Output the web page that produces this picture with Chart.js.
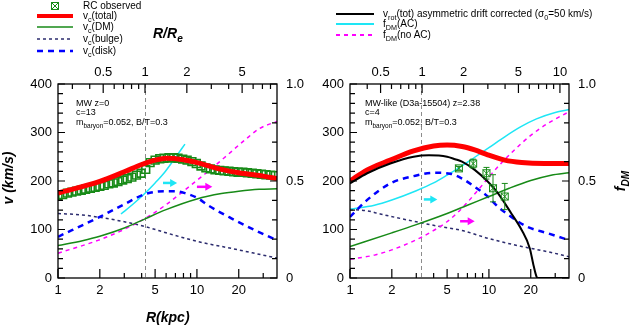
<!DOCTYPE html>
<html>
<head>
<meta charset="utf-8">
<script src="https://cdn.jsdelivr.net/npm/chart.js@4/dist/chart.umd.min.js"></script>
<style>
  body { margin: 0; width: 630px; height: 327px; overflow: hidden; background: #fff;
         font-family: "Liberation Sans", Arial, sans-serif; position: relative; }
  canvas { position: absolute; top: 0; }
  .t { position: absolute; white-space: nowrap; font-size: 10px; line-height: 12px; color: #000; }
  .t sub { font-size: 0.72em; vertical-align: -0.4em; line-height: 0; }
  .n { font-size: 9px; line-height: 10px; }
  .b { font-weight: bold; font-style: italic; font-size: 14px; line-height: 16px; }
  .rot { transform: rotate(-90deg); transform-origin: center center; }
</style>
</head>
<body>
<canvas id="left" width="315" height="327" style="left:0"></canvas>
<canvas id="right" width="315" height="327" style="left:315px"></canvas>

<!-- legends -->
<div class="t" style="left:83px;top:0px">RC observed</div>
<div class="t" style="left:83px;top:10px">v<sub>c</sub>(total)</div>
<div class="t" style="left:83px;top:21px">v<sub>c</sub>(DM)</div>
<div class="t" style="left:83px;top:33px">v<sub>c</sub>(bulge)</div>
<div class="t" style="left:83px;top:45px">v<sub>c</sub>(disk)</div>
<div class="t" style="left:383px;top:8px">v<sub>rot</sub>(tot) asymmetric drift corrected (σ<sub>0</sub>=50 km/s)</div>
<div class="t" style="left:383px;top:18px">f<sub>DM</sub>(AC)</div>
<div class="t" style="left:383px;top:29px">f<sub>DM</sub>(no AC)</div>

<!-- panel notes -->
<div class="t n" style="left:76px;top:98px">MW z=0</div>
<div class="t n" style="left:76px;top:107px">c=13</div>
<div class="t n" style="left:76px;top:117px">m<sub>baryon</sub>=0.052, B/T=0.3</div>
<div class="t n" style="left:365px;top:98px">MW-like (D3a-15504) z=2.38</div>
<div class="t n" style="left:365px;top:107px">c=4</div>
<div class="t n" style="left:365px;top:117px">m<sub>baryon</sub>=0.052, B/T=0.3</div>

<!-- axis titles -->
<div class="t b" style="left:153px;top:25px">R/R<sub>e</sub></div>
<div class="t b" style="left:146px;top:309px">R(kpc)</div>
<div class="t b rot" style="left:-22px;top:170px;width:60px;text-align:center">v (km/s)</div>
<div class="t b rot" style="left:600px;top:173px;width:40px;text-align:center">f<sub>DM</sub></div>

<script>
// ---- left panel: MW z=0 ----
const reLeft = 4.23;
const rTotL = [1, 2, 3, 4, 5, 6, 8, 10, 15, 20, 30, 37.7];
const vTotL = [175, 199, 219, 234, 243, 247, 244, 238, 224, 217, 210, 205];
const rDmL = [1, 1.5, 2, 3, 4.23, 6, 10, 15, 20, 28, 37.7];
const vDmL = [67, 77, 86, 103, 122, 141, 163, 174, 179, 183, 184];
const rBulL = [1, 1.5, 2, 3, 4.23, 6.2, 10.2, 17.7, 25, 37.7];
const vBulL = [133, 130, 125, 116, 106, 92, 75, 61, 52, 41];
const rDiskL = [1, 2, 3, 4.23, 5.8, 7, 8.2, 10.2, 12, 17.7, 26, 37.7];
const vDiskL = [85, 126, 152, 173, 179, 179, 175, 164, 150, 123, 99, 78];
const rAcL = [2.84, 3.46, 4.23, 5, 5.9, 6.9, 8.2];
const fAcL = [0.33, 0.38, 0.437, 0.49, 0.548, 0.615, 0.69];
const rNoL = [1, 1.94, 2.88, 4.23, 5.89, 8.19, 11.4, 15.8, 22.1, 28.3, 37.7];
const fNoL = [0.128, 0.194, 0.245, 0.307, 0.374, 0.454, 0.536, 0.621, 0.711, 0.771, 0.807];
const rObsL = [1.00, 1.08, 1.17, 1.26, 1.36, 1.47, 1.58, 1.71, 1.85, 2.0, 2.15, 2.32, 2.5, 2.7,
  2.92, 3.15, 3.4, 3.67, 3.96, 4.28, 4.6, 5.0, 5.4, 5.8, 6.3, 6.8, 7.3, 7.9, 8.5, 9.2, 9.9,
  10.7, 11.6, 12.5, 13.5, 14.6, 15.7, 17, 18.4, 19.8, 21.4, 23.1, 25, 27, 29.1, 31.4, 34, 36.7];
const vObsL = [170, 172, 175, 177, 179, 181, 183, 185, 187, 189, 191, 194, 196, 199,
  202, 205, 208, 212, 216, 224, 238, 243, 246, 247, 248, 248, 247, 245, 243, 240, 236,
  231, 227, 225, 223, 222, 221, 220, 219, 218, 218, 217, 216, 215, 214, 213, 212, 211];

// ---- right panel: MW-like D3a-15504 z=2.38 ----
const reRight = 3.24;
const rTotR = [1, 1.33, 1.95, 2.87, 4, 5, 6.4, 7.9, 9.8, 13, 17.2, 25, 37.7];
const vTotR = [200, 223, 243, 262, 272, 274, 271, 264, 254, 243, 238, 236, 236];
const rRotR = [1, 1.33, 1.95, 2.87, 3.7, 5, 5.7, 6.4, 7.9, 9.8, 11.6, 14.5, 17.2, 19.7, 20.8, 22, 22.6, 37.7];
const vRotR = [195, 216, 236, 250, 253, 250, 245, 240, 223, 199, 175, 133, 99, 61, 30, 3, 0, 0];
const rDmR = [1, 2, 3, 5, 7, 10, 14, 20, 28, 37.7];
const vDmR = [65, 93, 110, 133, 150, 168, 185, 201, 212, 217];
const rBulR = [1, 1.3, 1.65, 2.87, 4.46, 6.4, 9.8, 17.2, 26.7, 37.7];
const vBulR = [141, 139, 132, 117, 106, 98, 82, 65, 54, 44];
const rDiskR = [1, 1.33, 1.95, 2.87, 4, 5.26, 6.4, 7.9, 9.8, 11.6, 14.5, 18.7, 26.7, 37.7];
const vDiskR = [126, 161, 195, 210, 217, 215, 205, 188, 168, 147, 126, 106, 92, 78];
const rAcR = [1, 1.5, 2, 3, 4, 5, 6, 8, 10, 13, 17, 22, 30, 37.7];
const fAcR = [0.354, 0.375, 0.402, 0.45, 0.49, 0.53, 0.565, 0.625, 0.672, 0.728, 0.78, 0.82, 0.853, 0.868];
const rNoR = [1, 1.5, 2, 3, 4, 5, 6, 7, 8.5, 10, 12, 15, 20, 27, 37.7];
const fNoR = [0.096, 0.118, 0.145, 0.197, 0.245, 0.29, 0.34, 0.39, 0.46, 0.52, 0.585, 0.655, 0.735, 0.80, 0.857];
const rObsR = [6.08, 7.7, 9.6, 10.7, 13.0];
const vObsR = [226, 236, 216, 185, 168];
const eObsR = [4, 9, 12, 28, 27];

// shared axis ticks
const rMin = 1, rMax = 37.7;
const bottomTicks = [1, 2, 3, 4, 5, 6, 7, 8, 9, 10, 20, 30];
const bottomLabels = [1, 2, 5, 10, 20];
const topTicks = [0.2, 0.3, 0.4, 0.5, 0.6, 0.7, 0.8, 0.9, 1, 2, 3, 4, 5, 6, 7, 8, 9, 10, 20];
const topLabels = [0.5, 1, 2, 5, 10];

const RED = '#ff0000', GREEN = '#178a17', NAVY = '#2c2c6e', BLUE = '#0000ff',
      CYAN = '#1ee6f5', MAG = '#ff00ff', GREY = '#8c8c8c';

Chart.defaults.font.family = '"Liberation Sans", Arial, sans-serif';
Chart.defaults.font.size = 13;
Chart.defaults.color = '#000';

const pts = (rs, vs) => rs.map((r, i) => ({ x: r, y: vs[i] }));

const line = (rs, vs, color, width, dash, axis, order) => ({
  data: pts(rs, vs), borderColor: color, borderWidth: width, borderDash: dash,
  pointRadius: 0, fill: false, cubicInterpolationMode: 'monotone',
  yAxisID: axis, order: order
});

const arrow = (ctx, x0, x1, y, color) => {
  ctx.strokeStyle = color; ctx.fillStyle = color; ctx.lineWidth = 2.5; ctx.setLineDash([]);
  ctx.beginPath(); ctx.moveTo(x0, y); ctx.lineTo(x1 - 6, y); ctx.stroke();
  ctx.beginPath(); ctx.moveTo(x1, y); ctx.lineTo(x1 - 7, y - 4); ctx.lineTo(x1 - 7, y + 4);
  ctx.closePath(); ctx.fill();
};

const obsMark = (ctx, x, y) => {
  ctx.strokeStyle = GREEN; ctx.lineWidth = 1; ctx.setLineDash([]);
  ctx.strokeRect(x - 3.5, y - 3.5, 7, 7);
  ctx.beginPath(); ctx.moveTo(x - 3.5, y - 3.5); ctx.lineTo(x + 3.5, y + 3.5);
  ctx.moveTo(x + 3.5, y - 3.5); ctx.lineTo(x - 3.5, y + 3.5); ctx.stroke();
};

const sample = (ctx, x0, x1, y, color, width, dash) => {
  ctx.strokeStyle = color; ctx.lineWidth = width; ctx.setLineDash(dash);
  ctx.beginPath(); ctx.moveTo(x0, y); ctx.lineTo(x1, y); ctx.stroke();
};

// vertical R=Re line, arrows, error bars, frame, inward ticks, legend samples
const decor = {
  id: 'decor',
  beforeDatasetsDraw(chart, args, o) {
    const { ctx, chartArea: a, scales } = chart;
    const xe = Math.round(scales.x.getPixelForValue(o.re)) + 0.5;
    ctx.save();
    ctx.strokeStyle = GREY; ctx.lineWidth = 1; ctx.setLineDash([4, 3]);
    ctx.beginPath(); ctx.moveTo(xe, a.top); ctx.lineTo(xe, a.bottom); ctx.stroke();
    ctx.restore();
  },
  afterDatasetsDraw(chart, args, o) {
    const { ctx, chartArea: a, scales } = chart;
    const sx = scales.x, sy = scales.y;
    ctx.save();
    o.arrows.forEach(ar => arrow(ctx, sx.getPixelForValue(ar.r0), sx.getPixelForValue(ar.r1),
      sy.getPixelForValue(ar.v), ar.color));
    if (o.err) {
      ctx.strokeStyle = GREEN; ctx.lineWidth = 1; ctx.setLineDash([]);
      o.err.r.forEach((r, i) => {
        const x = sx.getPixelForValue(r);
        const y0 = sy.getPixelForValue(o.err.v[i] - o.err.e[i]);
        const y1 = sy.getPixelForValue(o.err.v[i] + o.err.e[i]);
        ctx.beginPath();
        ctx.moveTo(x, y0); ctx.lineTo(x, y1);
        ctx.moveTo(x - 3, y0); ctx.lineTo(x + 3, y0);
        ctx.moveTo(x - 3, y1); ctx.lineTo(x + 3, y1);
        ctx.stroke();
        obsMark(ctx, x, sy.getPixelForValue(o.err.v[i]));
      });
    }
    // frame
    ctx.strokeStyle = '#000'; ctx.lineWidth = 1.3; ctx.setLineDash([]);
    ctx.strokeRect(a.left, a.top, a.right - a.left, a.bottom - a.top);
    // inward ticks
    ctx.lineWidth = 1.2;
    ctx.beginPath();
    sx.ticks.forEach(t => {
      const p = sx.getPixelForValue(t.value), l = t.label !== '' ? 9 : 5;
      ctx.moveTo(p, a.bottom); ctx.lineTo(p, a.bottom - l);
    });
    scales.x2.ticks.forEach(t => {
      const p = scales.x2.getPixelForValue(t.value), l = t.label !== '' ? 9 : 5;
      if (p < a.left + 1 || p > a.right - 1) return;
      ctx.moveTo(p, a.top); ctx.lineTo(p, a.top + l);
    });
    sy.ticks.forEach(t => {
      const p = sy.getPixelForValue(t.value), l = t.label !== '' ? 7 : 5;
      ctx.moveTo(a.left, p); ctx.lineTo(a.left + l, p);
    });
    scales.y2.ticks.forEach(t => {
      const p = scales.y2.getPixelForValue(t.value), l = t.label !== '' ? 7 : 5;
      ctx.moveTo(a.right, p); ctx.lineTo(a.right - l, p);
    });
    ctx.stroke();
    if (o.legend) o.legend(ctx);
    ctx.restore();
  }
};

function makePanel(id, re, datasets, extra, widths) {
  const topMin = rMin / re, topMax = rMax / re;
  return new Chart(document.getElementById(id), {
    type: 'line',
    data: { datasets },
    options: {
      responsive: false, animation: false, events: [],
      layout: { padding: 0 },
      plugins: { legend: { display: false }, tooltip: { enabled: false }, decor: extra },
      scales: {
        x: {
          type: 'logarithmic', position: 'bottom', min: rMin, max: rMax,
          afterBuildTicks: s => { s.ticks = bottomTicks.map(v => ({ value: v })); },
          afterFit: s => { s.height = 49; },
          ticks: { autoSkip: false, maxRotation: 0, padding: 5,
                   callback: v => bottomLabels.includes(v) ? String(v) : '' },
          grid: { display: false, drawTicks: false }, border: { display: false }
        },
        x2: {
          type: 'logarithmic', position: 'top', min: topMin, max: topMax,
          afterBuildTicks: s => {
            s.ticks = topTicks.filter(v => v >= topMin && v <= topMax).map(v => ({ value: v }));
          },
          afterFit: s => { s.height = 84; },
          ticks: { autoSkip: false, maxRotation: 0, padding: 4,
                   callback: v => topLabels.includes(v) ? String(v) : '' },
          grid: { display: false, drawTicks: false }, border: { display: false }
        },
        y: {
          position: 'left', min: 0, max: 400,
          afterBuildTicks: s => {
            s.ticks = [];
            for (let v = 0; v <= 400; v += 20) s.ticks.push({ value: v });
          },
          afterFit: s => { s.width = widths[0]; },
          ticks: { autoSkip: false, padding: 6, callback: v => v % 100 === 0 ? String(v) : '' },
          grid: { display: false, drawTicks: false }, border: { display: false }
        },
        y2: {
          position: 'right', min: 0, max: 1,
          afterBuildTicks: s => {
            s.ticks = [];
            for (let k = 0; k <= 10; k++) s.ticks.push({ value: k / 10 });
          },
          afterFit: s => { s.width = widths[1]; },
          ticks: { autoSkip: false, padding: 9,
                   callback: v => {
                     const k = Math.round(v * 10);
                     return k === 0 ? '0' : k === 5 ? '0.5' : k === 10 ? '1.0' : '';
                   } },
          grid: { display: false, drawTicks: false }, border: { display: false }
        }
      }
    },
    plugins: [decor]
  });
}

// left chart
makePanel('left', reLeft, [
  line(rTotL, vTotL, RED, 5, [], 'y', 2),
  { data: pts(rObsL, vObsL), showLine: false, pointStyle: 'rect', pointRadius: 5.5,
    pointBorderColor: GREEN, pointBackgroundColor: 'rgba(255,255,255,0)', pointBorderWidth: 1.6,
    yAxisID: 'y', order: 3 },
  line(rDmL, vDmL, GREEN, 1.5, [], 'y', 4),
  line(rBulL, vBulL, NAVY, 1.5, [3, 3], 'y', 5),
  line(rDiskL, vDiskL, BLUE, 2.5, [6, 5], 'y', 4),
  line(rAcL, fAcL, CYAN, 1.5, [], 'y2', 4),
  line(rNoL, fNoL, MAG, 1.5, [4, 4], 'y2', 4)
], {
  re: reLeft,
  arrows: [{ r0: 5.7, r1: 7.2, v: 196, color: CYAN }, { r0: 10, r1: 12.9, v: 188, color: MAG }],
  legend: ctx => {
    obsMark(ctx, 55, 6);
    sample(ctx, 37, 73, 16, RED, 4, []);
    sample(ctx, 37, 73, 27, GREEN, 1.5, []);
    sample(ctx, 37, 73, 39, NAVY, 1.5, [3, 3]);
    sample(ctx, 37, 73, 51, BLUE, 2.5, [6, 5]);
  }
}, [58, 38]);

// right chart
makePanel('right', reRight, [
  line(rTotR, vTotR, RED, 5, [], 'y', 3),
  line(rRotR, vRotR, '#000', 2, [], 'y', 2),
  line(rDmR, vDmR, GREEN, 1.5, [], 'y', 4),
  line(rBulR, vBulR, NAVY, 1.5, [3, 3], 'y', 5),
  line(rDiskR, vDiskR, BLUE, 2.5, [6, 5], 'y', 4),
  line(rAcR, fAcR, CYAN, 1.5, [], 'y2', 4),
  line(rNoR, fNoR, MAG, 1.5, [4, 4], 'y2', 4)
], {
  re: reRight,
  arrows: [{ r0: 3.4, r1: 4.25, v: 162, color: CYAN }, { r0: 6.2, r1: 7.9, v: 117, color: MAG }],
  err: { r: rObsR, v: vObsR, e: eObsR },
  legend: ctx => {
    sample(ctx, 21, 59, 14, '#000', 2, []);
    sample(ctx, 21, 59, 24, CYAN, 2, []);
    sample(ctx, 21, 59, 35, MAG, 2, [4, 4]);
  }
}, [35, 61]);
</script>
</body>
</html>
